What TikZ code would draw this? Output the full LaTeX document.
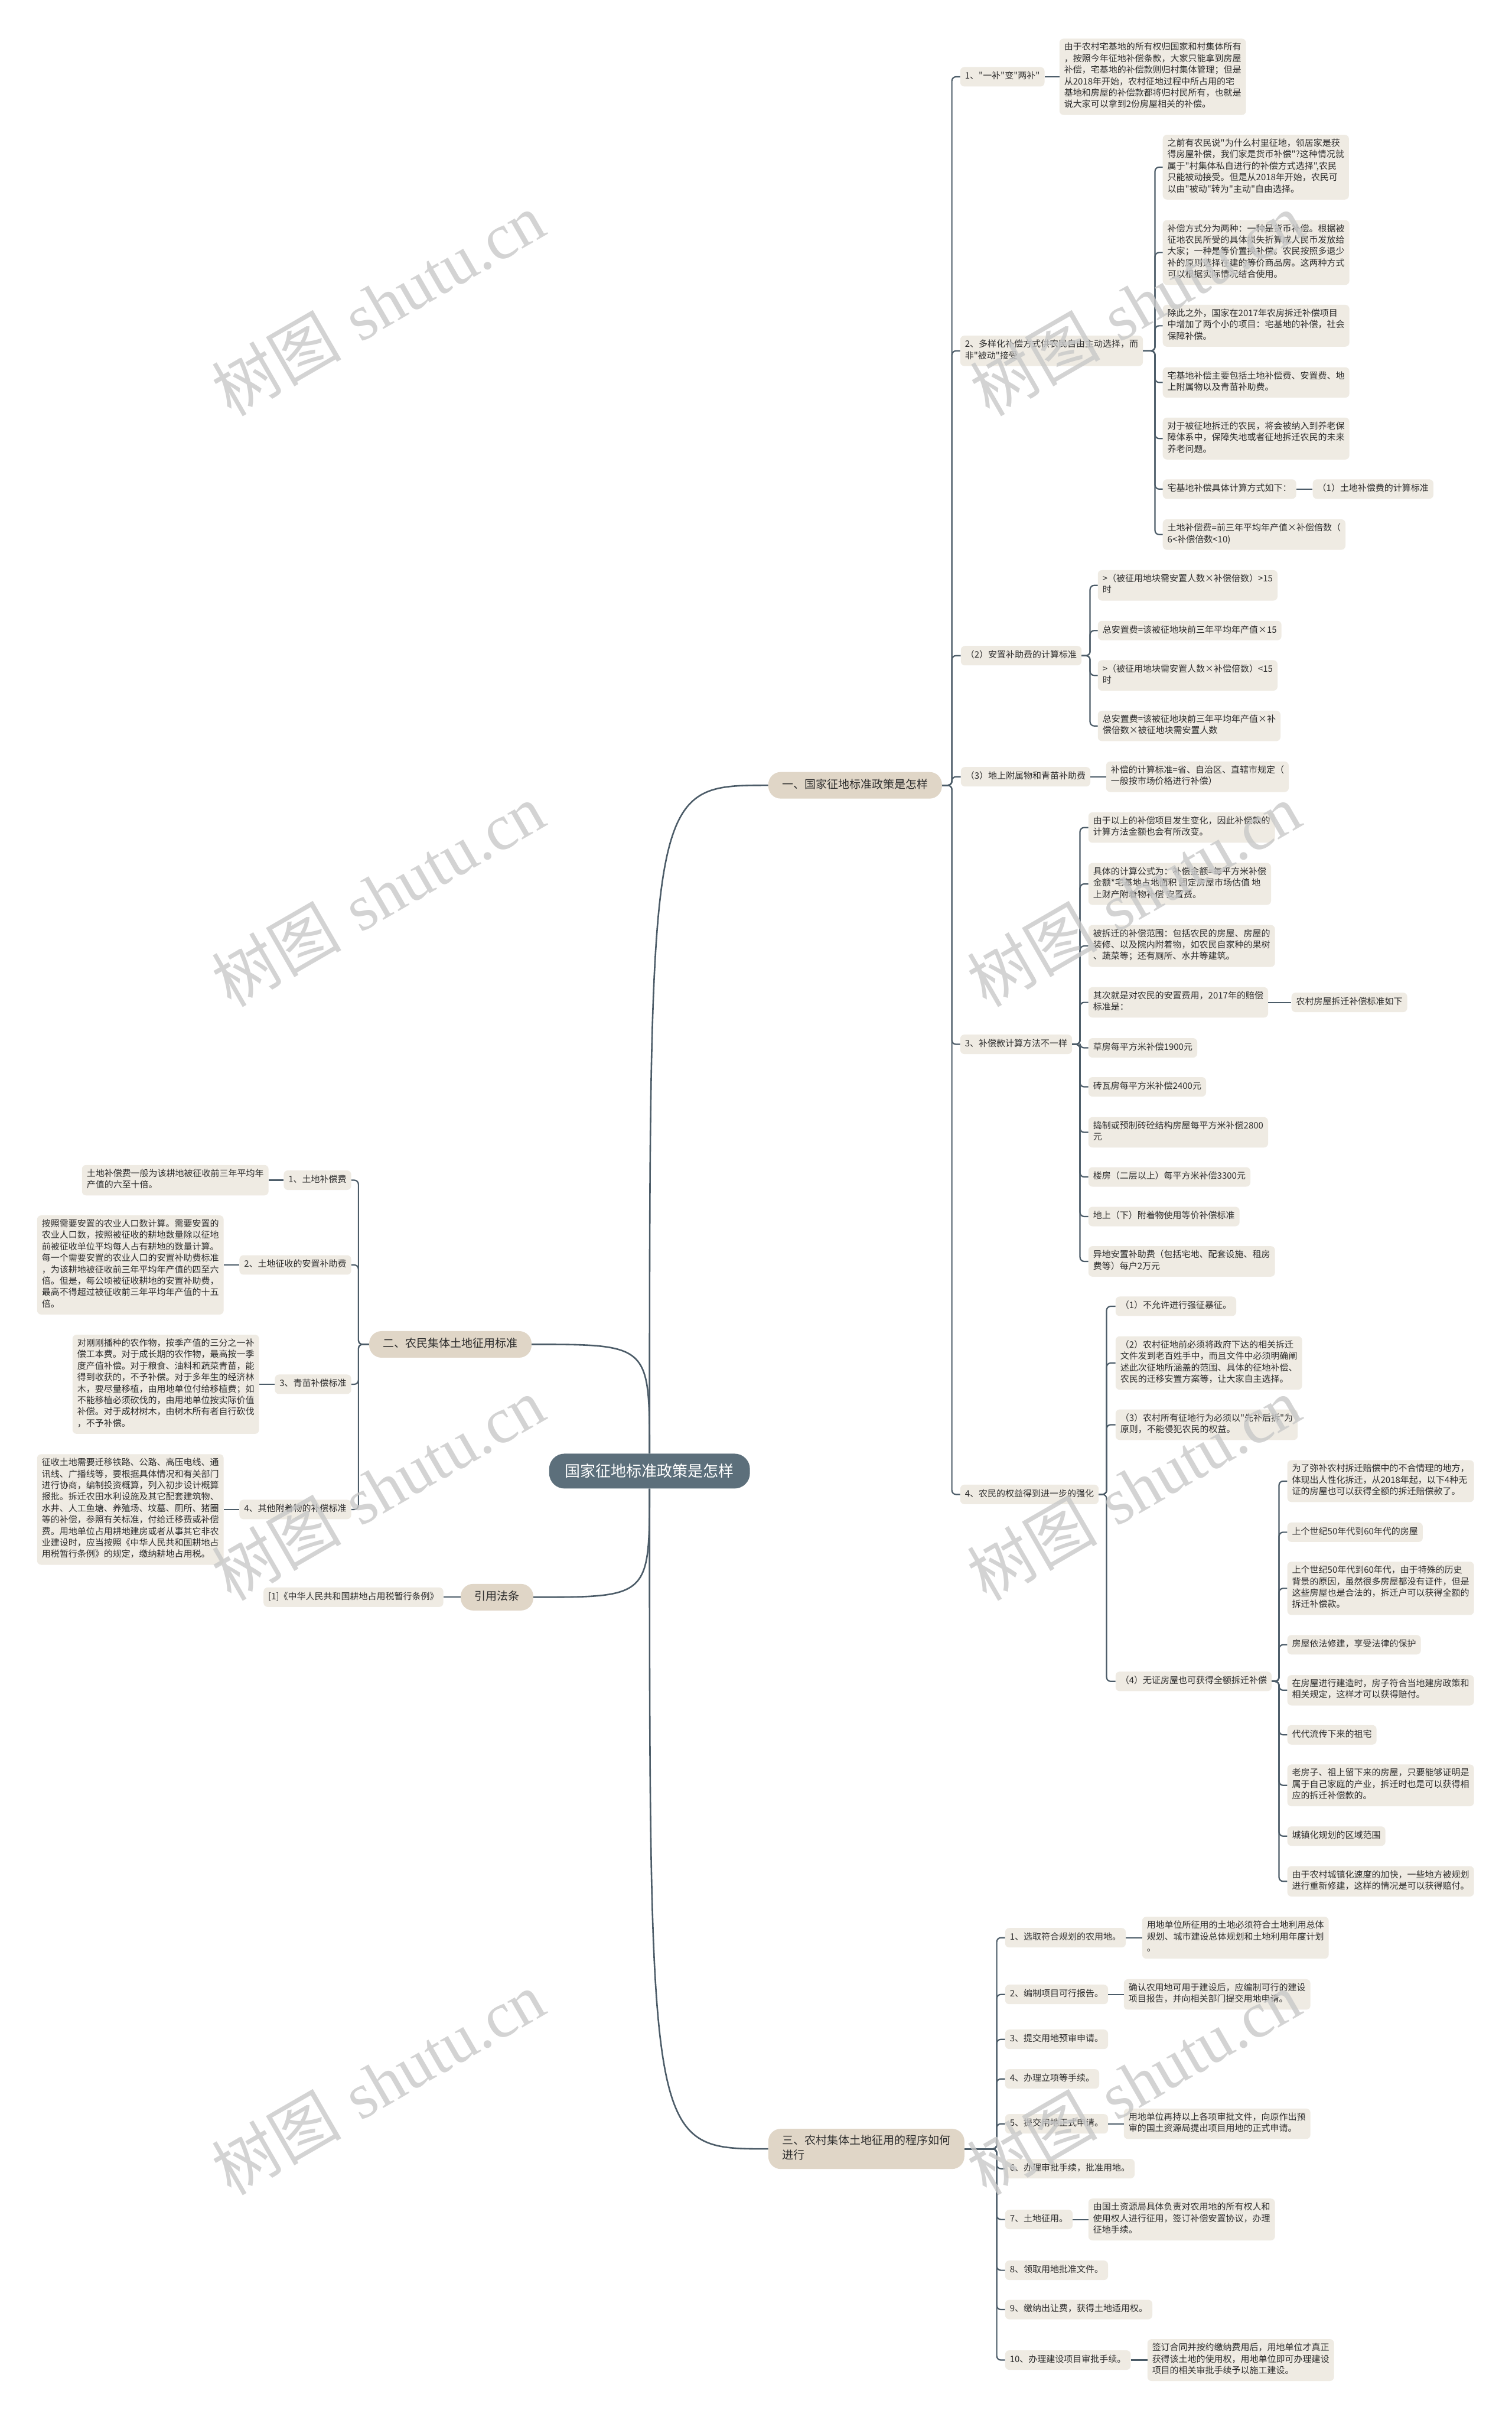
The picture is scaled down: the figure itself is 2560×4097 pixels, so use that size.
\documentclass[tikz,border=0pt]{standalone}
\usepackage{fontspec}
\newfontfamily\cjk{Noto Sans CJK SC}
\newfontfamily\wmserif{Liberation Serif}
\definecolor{lineC}{RGB}{76,92,104}
\definecolor{leafC}{RGB}{239,235,227}
\definecolor{brC}{RGB}{224,214,199}
\definecolor{rootC}{RGB}{92,111,123}
\definecolor{txtC}{RGB}{45,45,45}
\definecolor{wmC}{RGB}{200,200,200}
\newcommand\lst{\rule[-5.8pt]{0pt}{19.4pt}}
\newcommand\bst{\rule[-7pt]{0pt}{25pt}}
\newcommand\cR[3]{\draw[conn] (#1.east) -- (#3,0 |- #1.east) |- (#2.west);}
\newcommand\cL[3]{\draw[conn] (#1.west) -- (#3,0 |- #1.west) |- (#2.east);}
\newcommand\cS[2]{\draw[conn] (#1.east) -- (#2.west);}
\tikzset{
  leaf/.style={fill=leafC, rounded corners=7pt, inner xsep=8pt, inner ysep=6.8pt, align=left,
    font=\cjk\fontsize{15}{19.4}\selectfont, text=txtC,
    execute at begin node=\lst, execute at end node=\lst},
  branch/.style={fill=brC, rounded corners=21pt, inner xsep=23.5pt, inner ysep=10pt, align=left,
    font=\cjk\fontsize{19}{25}\selectfont, text=txtC,
    execute at begin node=\bst, execute at end node=\bst},
  rootn/.style={fill=rootC, rounded corners=26pt, inner xsep=27pt, minimum height=59pt,
    font=\cjk\fontsize{26}{30}\selectfont, text=white},
  conn/.style={draw=lineC, line width=2.2pt, rounded corners=7pt},
  rconn/.style={draw=lineC, line width=2.6pt},
  wm/.style={rotate=30, text=wmC, opacity=0.8, font=\fontsize{110}{110}\selectfont}
}
\begin{document}
\begin{tikzpicture}[x=1pt,y=-1pt]
\fill[white] (0,0) rectangle (2560,4097);
\useasboundingbox (0,0) rectangle (2560,4097);

% root and main branches
\node[rootn] (root) at (1100,2490.5) {国家征地标准政策是怎样};
\node[branch, anchor=west] (b1) at (1301,1329.5) {一、国家征地标准政策是怎样};
\node[branch, anchor=west] (b2) at (625,2276) {二、农民集体土地征用标准};
\node[branch, anchor=west] (b3) at (780,2704) {引用法条};
\node[branch, anchor=west] (b4) at (1301,3638) {三、农村集体土地征用的程序如何\\进行};

% ---- branch 1
\node[leaf, anchor=west] (n1) at (1626,130) {1、"一补"变"两补"};
\node[leaf, anchor=west] (n1t) at (1794,130) {由于农村宅基地的所有权归国家和村集体所有\\，按照今年征地补偿条款，大家只能拿到房屋\\补偿，宅基地的补偿款则归村集体管理；但是\\从2018年开始，农村征地过程中所占用的宅\\基地和房屋的补偿款都将归村民所有，也就是\\说大家可以拿到2份房屋相关的补偿。};

\node[leaf, anchor=west] (n2) at (1626,594) {2、多样化补偿方式供农民自由主动选择，而\\非"被动"接受};
\node[leaf, anchor=west] (n2a) at (1969,283) {之前有农民说"为什么村里征地，领居家是获\\得房屋补偿，我们家是货币补偿"?这种情况就\\属于"村集体私自进行的补偿方式选择",农民\\只能被动接受。但是从2018年开始，农民可\\以由"被动"转为"主动"自由选择。};
\node[leaf, anchor=west] (n2b) at (1969,427.5) {补偿方式分为两种：一种是货币补偿。根据被\\征地农民所受的具体损失折算成人民币发放给\\大家；一种是等价置换补偿。农民按照多退少\\补的原则选择在建的等价商品房。这两种方式\\可以根据实际情况结合使用。};
\node[leaf, anchor=west] (n2c) at (1969,551.5) {除此之外，国家在2017年农房拆迁补偿项目\\中增加了两个小的项目：宅基地的补偿，社会\\保障补偿。};
\node[leaf, anchor=west] (n2d) at (1969,647.5) {宅基地补偿主要包括土地补偿费、安置费、地\\上附属物以及青苗补助费。};
\node[leaf, anchor=west] (n2e) at (1969,742.5) {对于被征地拆迁的农民，将会被纳入到养老保\\障体系中，保障失地或者征地拆迁农民的未来\\养老问题。};
\node[leaf, anchor=west] (n2f) at (1969,828) {宅基地补偿具体计算方式如下：};
\node[leaf, anchor=west] (n2f1) at (2223,828) {（1）土地补偿费的计算标准};
\node[leaf, anchor=west] (n2g) at (1969,905) {土地补偿费=前三年平均年产值×补偿倍数（\\6<补偿倍数<10)};

\node[leaf, anchor=west] (n3) at (1627,1110) {（2）安置补助费的计算标准};
\node[leaf, anchor=west] (n3a) at (1859,991) {>（被征用地块需安置人数×补偿倍数）>15\\时};
\node[leaf, anchor=west] (n3b) at (1859,1067.5) {总安置费=该被征地块前三年平均年产值×15};
\node[leaf, anchor=west] (n3c) at (1859,1143.5) {>（被征用地块需安置人数×补偿倍数）<15\\时};
\node[leaf, anchor=west] (n3d) at (1859,1229) {总安置费=该被征地块前三年平均年产值×补\\偿倍数×被征地块需安置人数};

\node[leaf, anchor=west] (n4) at (1627,1315) {（3）地上附属物和青苗补助费};
\node[leaf, anchor=west] (n4a) at (1873,1315) {补偿的计算标准=省、自治区、直辖市规定（\\一般按市场价格进行补偿）};

\node[leaf, anchor=west] (n5) at (1626,1768) {3、补偿款计算方法不一样};
\node[leaf, anchor=west] (n5a) at (1843,1401) {由于以上的补偿项目发生变化，因此补偿款的\\计算方法金额也会有所改变。};
\node[leaf, anchor=west] (n5b) at (1843,1496.5) {具体的计算公式为：补偿金额=每平方米补偿\\金额*宅基地占地面积 固定房屋市场估值 地\\上财产附着物补偿 安置费。};
\node[leaf, anchor=west] (n5c) at (1843,1601.5) {被拆迁的补偿范围：包括农民的房屋、房屋的\\装修、以及院内附着物，如农民自家种的果树\\、蔬菜等；还有厕所、水井等建筑。};
\node[leaf, anchor=west] (n5d) at (1843,1697) {其次就是对农民的安置费用，2017年的赔偿\\标准是：};
\node[leaf, anchor=west] (n5d1) at (2187,1697) {农村房屋拆迁补偿标准如下};
\node[leaf, anchor=west] (n5e) at (1843,1774) {草房每平方米补偿1900元};
\node[leaf, anchor=west] (n5f) at (1843,1840) {砖瓦房每平方米补偿2400元};
\node[leaf, anchor=west] (n5g) at (1843,1917) {捣制或预制砖砼结构房屋每平方米补偿2800\\元};
\node[leaf, anchor=west] (n5h) at (1843,1992.5) {楼房（二层以上）每平方米补偿3300元};
\node[leaf, anchor=west] (n5i) at (1843,2059.5) {地上（下）附着物使用等价补偿标准};
\node[leaf, anchor=west] (n5j) at (1843,2135.5) {异地安置补助费（包括宅地、配套设施、租房\\费等）每户2万元};

\node[leaf, anchor=west] (n6) at (1626,2530) {4、农民的权益得到进一步的强化};
\node[leaf, anchor=west] (n6a) at (1889,2211.5) {（1）不允许进行强征暴征。};
\node[leaf, anchor=west] (n6b) at (1889,2307.5) {（2）农村征地前必须将政府下达的相关拆迁\\文件发到老百姓手中，而且文件中必须明确阐\\述此次征地所涵盖的范围、具体的征地补偿、\\农民的迁移安置方案等，让大家自主选择。};
\node[leaf, anchor=west] (n6c) at (1889,2412) {（3）农村所有征地行为必须以"先补后拆"为\\原则，不能侵犯农民的权益。};
\node[leaf, anchor=west] (n6d) at (1889,2846.5) {（4）无证房屋也可获得全额拆迁补偿};
\node[leaf, anchor=west] (d1) at (2180,2507.5) {为了弥补农村拆迁赔偿中的不合情理的地方，\\体现出人性化拆迁，从2018年起，以下4种无\\证的房屋也可以获得全额的拆迁赔偿款了。};
\node[leaf, anchor=west] (d2) at (2180,2594) {上个世纪50年代到60年代的房屋};
\node[leaf, anchor=west] (d3) at (2180,2689) {上个世纪50年代到60年代，由于特殊的历史\\背景的原因，虽然很多房屋都没有证件，但是\\这些房屋也是合法的，拆迁户可以获得全额的\\拆迁补偿款。};
\node[leaf, anchor=west] (d4) at (2180,2784.5) {房屋依法修建，享受法律的保护};
\node[leaf, anchor=west] (d5) at (2180,2861.5) {在房屋进行建造时，房子符合当地建房政策和\\相关规定，这样才可以获得赔付。};
\node[leaf, anchor=west] (d6) at (2180,2937) {代代流传下来的祖宅};
\node[leaf, anchor=west] (d7) at (2180,3022.5) {老房子、祖上留下来的房屋，只要能够证明是\\属于自己家庭的产业，拆迁时也是可以获得相\\应的拆迁补偿款的。};
\node[leaf, anchor=west] (d8) at (2180,3108.5) {城镇化规划的区域范围};
\node[leaf, anchor=west] (d9) at (2180,3185) {由于农村城镇化速度的加快，一些地方被规划\\进行重新修建，这样的情况是可以获得赔付。};

% ---- branch 3 (procedure)
\node[leaf, anchor=west] (s1) at (1702,3280.5) {1、选取符合规划的农用地。};
\node[leaf, anchor=west] (s1t) at (1934,3280.5) {用地单位所征用的土地必须符合土地利用总体\\规划、城市建设总体规划和土地利用年度计划\\。};
\node[leaf, anchor=west] (s2) at (1702,3376.5) {2、编制项目可行报告。};
\node[leaf, anchor=west] (s2t) at (1903,3376.5) {确认农用地可用于建设后，应编制可行的建设\\项目报告，并向相关部门提交用地申请。};
\node[leaf, anchor=west] (s3) at (1702,3452.5) {3、提交用地预审申请。};
\node[leaf, anchor=west] (s4) at (1702,3519.5) {4、办理立项等手续。};
\node[leaf, anchor=west] (s5) at (1702,3595.5) {5、提交用地正式申请。};
\node[leaf, anchor=west] (s5t) at (1903,3595.5) {用地单位再持以上各项审批文件，向原作出预\\审的国土资源局提出项目用地的正式申请。};
\node[leaf, anchor=west] (s6) at (1702,3671.5) {6、办理审批手续，批准用地。};
\node[leaf, anchor=west] (s7) at (1702,3757.5) {7、土地征用。};
\node[leaf, anchor=west] (s7t) at (1843,3757.5) {由国土资源局具体负责对农用地的所有权人和\\使用权人进行征用，签订补偿安置协议，办理\\征地手续。};
\node[leaf, anchor=west] (s8) at (1702,3843.5) {8、领取用地批准文件。};
\node[leaf, anchor=west] (s9) at (1702,3910) {9、缴纳出让费，获得土地适用权。};
\node[leaf, anchor=west] (s10) at (1702,3995.5) {10、办理建设项目审批手续。};
\node[leaf, anchor=west] (s10t) at (1943,3995.5) {签订合同并按约缴纳费用后，用地单位才真正\\获得该土地的使用权，用地单位即可办理建设\\项目的相关审批手续予以施工建设。};

% ---- branch 2 (left)
\node[leaf, anchor=east] (L1) at (595,1998) {1、土地补偿费};
\node[leaf, anchor=east] (L1t) at (455,1998) {土地补偿费一般为该耕地被征收前三年平均年\\产值的六至十倍。};
\node[leaf, anchor=east] (L2) at (595,2141.5) {2、土地征收的安置补助费};
\node[leaf, anchor=east] (L2t) at (379,2141.5) {按照需要安置的农业人口数计算。需要安置的\\农业人口数，按照被征收的耕地数量除以征地\\前被征收单位平均每人占有耕地的数量计算。\\每一个需要安置的农业人口的安置补助费标准\\，为该耕地被征收前三年平均年产值的四至六\\倍。但是，每公顷被征收耕地的安置补助费，\\最高不得超过被征收前三年平均年产值的十五\\倍。};
\node[leaf, anchor=east] (L3) at (595,2343.5) {3、青苗补偿标准};
\node[leaf, anchor=east] (L3t) at (439,2343.5) {对刚刚播种的农作物，按季产值的三分之一补\\偿工本费。对于成长期的农作物，最高按一季\\度产值补偿。对于粮食、油料和蔬菜青苗，能\\得到收获的，不予补偿。对于多年生的经济林\\木，要尽量移植，由用地单位付给移植费；如\\不能移植必须砍伐的，由用地单位按实际价值\\补偿。对于成材树木，由树木所有者自行砍伐\\，不予补偿。};
\node[leaf, anchor=east] (L4) at (595,2555.5) {4、其他附着物的补偿标准};
\node[leaf, anchor=east] (L4t) at (379,2555.5) {征收土地需要迁移铁路、公路、高压电线、通\\讯线、广播线等，要根据具体情况和有关部门\\进行协商，编制投资概算，列入初步设计概算\\报批。拆迁农田水利设施及其它配套建筑物、\\水井、人工鱼塘、养殖场、坟墓、厕所、猪圈\\等的补偿，参照有关标准，付给迁移费或补偿\\费。用地单位占用耕地建房或者从事其它非农\\业建设时，应当按照《中华人民共和国耕地占\\用税暂行条例》的规定，缴纳耕地占用税。};
\node[leaf, anchor=east] (ref) at (751,2704) {[1]《中华人民共和国耕地占用税暂行条例》};

% ---- connectors: root
\draw[rconn] (root.north) .. controls (1100,1329.5) .. (b1.west);
\draw[rconn] (root.north) .. controls (1100,2276) .. (b2.east);
\draw[rconn] (root.south) .. controls (1100,2704) .. (b3.east);
\draw[rconn] (root.south) .. controls (1100,3638) .. (b4.west);

% branch 1
\cR{b1}{n1}{1612} \cR{b1}{n2}{1612} \cR{b1}{n3}{1612} \cR{b1}{n4}{1612} \cR{b1}{n5}{1612} \cR{b1}{n6}{1612}
\cS{n1}{n1t}
\cR{n2}{n2a}{1956} \cR{n2}{n2b}{1956} \cR{n2}{n2c}{1956} \cR{n2}{n2d}{1956} \cR{n2}{n2e}{1956} \cR{n2}{n2f}{1956} \cR{n2}{n2g}{1956}
\cS{n2f}{n2f1}
\cR{n3}{n3a}{1846} \cR{n3}{n3b}{1846} \cR{n3}{n3c}{1846} \cR{n3}{n3d}{1846}
\cS{n4}{n4a}
\cR{n5}{n5a}{1829} \cR{n5}{n5b}{1829} \cR{n5}{n5c}{1829} \cR{n5}{n5d}{1829} \cR{n5}{n5e}{1829}
\cR{n5}{n5f}{1829} \cR{n5}{n5g}{1829} \cR{n5}{n5h}{1829} \cR{n5}{n5i}{1829} \cR{n5}{n5j}{1829}
\cS{n5d}{n5d1}
\cR{n6}{n6a}{1874} \cR{n6}{n6b}{1874} \cR{n6}{n6c}{1874} \cR{n6}{n6d}{1874}
\cR{n6d}{d1}{2166} \cR{n6d}{d2}{2166} \cR{n6d}{d3}{2166} \cR{n6d}{d4}{2166} \cR{n6d}{d5}{2166}
\cR{n6d}{d6}{2166} \cR{n6d}{d7}{2166} \cR{n6d}{d8}{2166} \cR{n6d}{d9}{2166}

% branch 3
\cR{b4}{s1}{1688} \cR{b4}{s2}{1688} \cR{b4}{s3}{1688} \cR{b4}{s4}{1688} \cR{b4}{s5}{1688}
\cR{b4}{s6}{1688} \cR{b4}{s7}{1688} \cR{b4}{s8}{1688} \cR{b4}{s9}{1688} \cR{b4}{s10}{1688}
\cS{s1}{s1t} \cS{s2}{s2t} \cS{s5}{s5t} \cS{s7}{s7t} \cS{s10}{s10t}

% branch 2 (left)
\cL{b2}{L1}{607} \cL{b2}{L2}{607} \cL{b2}{L3}{607} \cL{b2}{L4}{607}
\draw[conn] (L1.west) -- (L1t.east);
\draw[conn] (L2.west) -- (L2t.east);
\draw[conn] (L3.west) -- (L3t.east);
\draw[conn] (L4.west) -- (L4t.east);
\draw[conn] (b3.west) -- (ref.east);

% watermarks
\foreach \wx/\wy in {640/515, 1925/515, 640/1515, 1920/1515, 640/2520, 1920/2520, 640/3526, 1920/3526}{
  \node[wm] at (\wx,\wy) {{\cjk 树图} {\wmserif shutu.cn}};
}
\end{tikzpicture}
\end{document}
